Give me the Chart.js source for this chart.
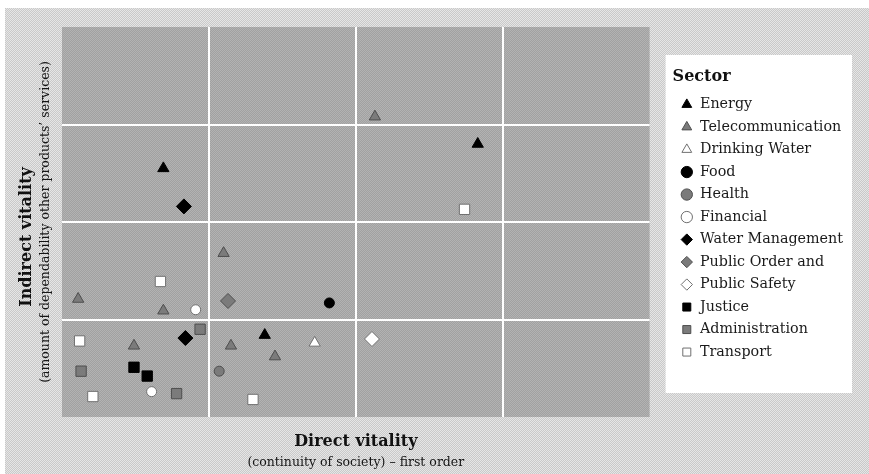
<!DOCTYPE html>
<html lang="en">
<head>
    <meta charset="UTF-8">
    <meta name="viewport" content="width=device-width, initial-scale=1.0">
    <title>Direct and indirect vitality per sector</title>
    <style>
        html, body {
            margin: 0;
            padding: 0;
            background: #ffffff;
        }
        #chart-container {
            width: 869px;
            height: 474px;
        }
    </style>
    <script src="https://cdn.jsdelivr.net/npm/chart.js"></script>
</head>
<body>
    <div id="chart-container">
        <canvas id="vitalityChart" width="869" height="474"></canvas>
    </div>

    <script>
        // Legend order of the sectors
        const sectors = ['Energy', 'Telecommunication', 'Drinking Water', 'Food', 'Health', 'Financial',
            'Water Management', 'Public Order and', 'Public Safety', 'Justice', 'Administration', 'Transport'];

        // [direct vitality, indirect vitality] per organisation, both axes run 0..4
        const energy = [[0.69, 2.55], [1.38, 0.84], [2.83, 2.80]];
        const telecommunication = [[2.13, 3.08], [0.11, 1.21], [0.69, 1.09], [1.10, 1.68], [0.49, 0.73], [1.15, 0.73], [1.45, 0.62]];
        const drinkingWater = [[1.72, 0.76]];
        const food = [[1.82, 1.17]];
        const health = [[1.07, 0.47]];
        const financial = [[0.91, 1.10], [0.61, 0.26]];
        const waterManagement = [[0.83, 2.16], [0.84, 0.81]];
        const publicOrder = [[1.13, 1.19]];
        const publicSafety = [[2.11, 0.80]];
        const justice = [[0.49, 0.51], [0.58, 0.42]];
        const administration = [[0.94, 0.90], [0.13, 0.47], [0.78, 0.24]];
        const transport = [[0.67, 1.39], [0.12, 0.78], [0.21, 0.21], [1.30, 0.18], [2.74, 2.13]];

        const sectorPoints = [energy, telecommunication, drinkingWater, food, health, financial,
            waterManagement, publicOrder, publicSafety, justice, administration, transport];

        // Marker look per sector
        const shapes = ['triangle', 'triangle', 'triangle', 'circle', 'circle', 'circle',
            'rectRot', 'rectRot', 'rectRot', 'rect', 'rect', 'rect'];
        const tones = ['black', 'gray', 'white', 'black', 'gray', 'white',
            'black', 'gray', 'white', 'black', 'gray', 'white'];
        const toneColors = {
            black: { fill: '#000000', edge: '#000000' },
            gray: { fill: '#7b7b7b', edge: '#4e4e4e' },
            white: { fill: '#ffffff', edge: '#707070' }
        };
        const shapeRadius = { triangle: 6.5, circle: 5, rectRot: 7.5, rect: 7.3 };

        const serif = 'DejaVu Serif';
        Chart.defaults.font.family = serif;
        Chart.defaults.color = '#151515';

        // Small dithered tile, like the halftone background of the original
        function ditherPattern(ctx, a, b) {
            const tile = document.createElement('canvas');
            tile.width = 2;
            tile.height = 2;
            const t = tile.getContext('2d');
            t.fillStyle = a;
            t.fillRect(0, 0, 2, 2);
            t.fillStyle = b;
            t.fillRect(0, 0, 1, 1);
            t.fillRect(1, 1, 1, 1);
            return ctx.createPattern(tile, 'repeat');
        }

        // Page background, plot background and the white legend panel
        const backdrop = {
            id: 'backdrop',
            beforeDraw(chart) {
                const { ctx, chartArea, legend } = chart;
                ctx.save();
                ctx.fillStyle = '#ffffff';
                ctx.fillRect(0, 0, chart.width, chart.height);
                ctx.fillStyle = ditherPattern(ctx, '#c9c9c9', '#e6e6e6');
                ctx.fillRect(5, 8, chart.width - 5, chart.height - 8);
                ctx.fillStyle = ditherPattern(ctx, '#a1a1a1', '#b3b3b3');
                ctx.fillRect(chartArea.left, chartArea.top,
                    chartArea.right - chartArea.left, chartArea.bottom - chartArea.top);
                ctx.fillStyle = '#ffffff';
                ctx.fillRect(legend.left - 7, legend.top + 55, legend.width + 6, 338);
                ctx.restore();
            }
        };

        const datasets = sectors.map((name, i) => {
            const tone = toneColors[tones[i]];
            return {
                label: name,
                data: sectorPoints[i].map(([x, y]) => ({ x: x, y: y })),
                pointStyle: shapes[i],
                pointRadius: shapeRadius[shapes[i]],
                backgroundColor: tone.fill,
                borderColor: tone.edge,
                borderWidth: 1
            };
        });

        // No white lines on the outer edges of the plot
        const gridColor = c => (c.tick && (c.tick.value === 0 || c.tick.value === 4)) ? 'rgba(0,0,0,0)' : '#ffffff';

        const ctx = document.getElementById('vitalityChart').getContext('2d');
        const vitalityChart = new Chart(ctx, {
            type: 'scatter',
            data: { datasets: datasets },
            plugins: [backdrop],
            options: {
                responsive: false,
                animation: false,
                events: [],
                layout: { padding: { left: 0, top: 0, right: 16, bottom: 0 } },
                scales: {
                    x: {
                        type: 'linear',
                        position: 'bottom',
                        min: 0,
                        max: 4,
                        ticks: { display: false, stepSize: 1 },
                        grid: { color: gridColor, lineWidth: 2, drawTicks: false },
                        border: { display: false },
                        title: {
                            display: true,
                            text: 'Direct vitality',
                            color: '#111111',
                            font: { family: serif, size: 16, weight: 'bold', lineHeight: 1 },
                            padding: { top: 17, bottom: 0 }
                        }
                    },
                    y: {
                        type: 'linear',
                        position: 'left',
                        min: 0,
                        max: 4,
                        ticks: { display: false, stepSize: 1 },
                        grid: { color: gridColor, lineWidth: 2, drawTicks: false },
                        border: { display: false },
                        title: {
                            display: true,
                            text: '(amount of dependability other products\u2019 services)',
                            color: '#151515',
                            font: { family: serif, size: 12.5, lineHeight: 1 },
                            padding: { top: 4.75, bottom: 9.75 }
                        }
                    },
                    // empty axes only used as spacers
                    topGap: {
                        type: 'linear',
                        position: 'top',
                        ticks: { display: false },
                        grid: { display: false, drawTicks: false },
                        border: { display: false },
                        afterFit: scale => { scale.height = 27; }
                    },
                    rightGap: {
                        type: 'linear',
                        position: 'right',
                        ticks: { display: false },
                        grid: { display: false, drawTicks: false },
                        border: { display: false },
                        afterFit: scale => { scale.width = 23; }
                    }
                },
                plugins: {
                    title: {
                        display: true,
                        position: 'left',
                        text: 'Indirect vitality',
                        color: '#111111',
                        font: { family: serif, size: 16, weight: 'bold', lineHeight: 1 },
                        padding: { top: 19, bottom: 0 }
                    },
                    subtitle: {
                        display: true,
                        position: 'bottom',
                        fullSize: false,
                        text: '(continuity of society) \u2013 first order',
                        color: '#151515',
                        font: { family: serif, size: 12.5, lineHeight: 1 },
                        padding: { top: 6.75, bottom: 4.75 }
                    },
                    legend: {
                        position: 'right',
                        align: 'start',
                        maxWidth: 220,
                        title: {
                            display: true,
                            text: 'Sector',
                            position: 'start',
                            color: '#111111',
                            font: { family: serif, size: 16, weight: 'bold', lineHeight: 1.2 },
                            padding: { top: 69, bottom: 1 }
                        },
                        labels: {
                            usePointStyle: true,
                            boxWidth: 12,
                            boxHeight: 8,
                            padding: 8.2,
                            color: '#1a1a1a',
                            font: { family: serif, size: 14.3 }
                        }
                    },
                    tooltip: { enabled: false }
                }
            }
        });
    </script>
</body>
</html>
